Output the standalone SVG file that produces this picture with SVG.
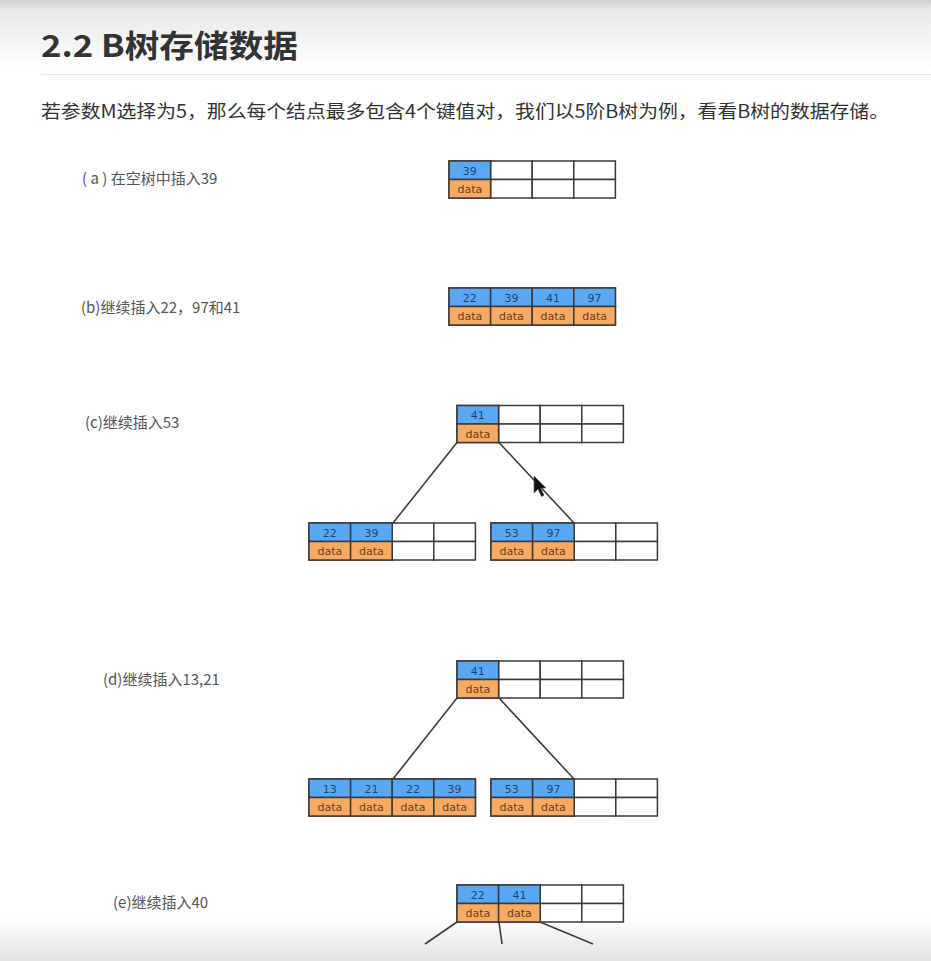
<svg xmlns="http://www.w3.org/2000/svg" xmlns:xlink="http://www.w3.org/1999/xlink" width="931" height="961" viewBox="0 0 931 961">
<style>
.cell{fill:#ffffff;stroke:#3a3a3a;stroke-width:1.5}
.k{fill:#5aa8f4;stroke:#3a3a3a;stroke-width:1.5}
.d{fill:#f8aa64;stroke:#3a3a3a;stroke-width:1.5}
.kt{font-family:"DejaVu Sans",sans-serif;font-size:11px;fill:#24466e;text-anchor:middle}
.dt{font-family:"DejaVu Sans",sans-serif;font-size:11px;fill:#6a4018;text-anchor:middle}
.lbl{font-family:"Noto Sans CJK SC","Liberation Sans",sans-serif;font-size:15px;fill:#555555}
.edge{stroke:#3d3d3d;stroke-width:1.6;fill:none}
</style>
<defs>
<linearGradient id="topg" x1="0" y1="0" x2="0" y2="1">
<stop offset="0" stop-color="#cfcfcf"/>
<stop offset="0.15" stop-color="#e9e9e9"/>
<stop offset="1" stop-color="#ffffff"/>
</linearGradient>
<linearGradient id="botg" x1="0" y1="0" x2="0" y2="1">
<stop offset="0" stop-color="#ffffff"/>
<stop offset="1" stop-color="#e2e2e2"/>
</linearGradient>
<g id="grid">
<rect class="cell" x="0" y="0" width="41.6" height="18.5"/>
<rect class="cell" x="41.6" y="0" width="41.6" height="18.5"/>
<rect class="cell" x="83.2" y="0" width="41.6" height="18.5"/>
<rect class="cell" x="124.8" y="0" width="41.6" height="18.5"/>
<rect class="cell" x="0" y="18.5" width="41.6" height="18.5"/>
<rect class="cell" x="41.6" y="18.5" width="41.6" height="18.5"/>
<rect class="cell" x="83.2" y="18.5" width="41.6" height="18.5"/>
<rect class="cell" x="124.8" y="18.5" width="41.6" height="18.5"/>
</g>
</defs>
<rect x="0" y="0" width="931" height="961" fill="#ffffff"/>
<rect x="0" y="0" width="931" height="70" fill="url(#topg)"/>
<rect x="0" y="918" width="931" height="43" fill="url(#botg)"/>

<g id="header">
<text x="41" y="57" font-family="Noto Sans CJK SC,Liberation Sans,sans-serif" font-size="31" font-weight="bold" fill="#333333" textLength="257" lengthAdjust="spacingAndGlyphs">2.2 B树存储数据</text>
<line x1="41" y1="74.5" x2="931" y2="74.5" stroke="#e8e8e8" stroke-width="1"/>
<text x="41" y="118" font-family="Noto Sans CJK SC,Liberation Sans,sans-serif" font-size="18" fill="#333333" textLength="848" lengthAdjust="spacingAndGlyphs">若参数M选择为5，那么每个结点最多包含4个键值对，我们以5阶B树为例，看看B树的数据存储。</text>
</g>

<g id="labels">
<text class="lbl" x="82" y="184">( a ) 在空树中插入39</text>
<text class="lbl" x="81" y="313">(b)继续插入22，97和41</text>
<text class="lbl" x="85" y="428">(c)继续插入53</text>
<text class="lbl" x="103" y="685">(d)继续插入13,21</text>
<text class="lbl" x="113" y="908">(e)继续插入40</text>
</g>

<g id="connectors">
<line class="edge" x1="457" y1="442.5" x2="393" y2="523"/>
<line class="edge" x1="499" y1="442.5" x2="574" y2="523"/>
<line class="edge" x1="457" y1="698" x2="393" y2="779"/>
<line class="edge" x1="499" y1="698" x2="574" y2="779"/>
<line class="edge" x1="457" y1="922" x2="425" y2="944"/>
<line class="edge" x1="499" y1="922" x2="502" y2="944"/>
<line class="edge" x1="540" y1="922" x2="593" y2="944"/>
</g>

<g id="node-a" transform="translate(449,161)">
<use xlink:href="#grid"/>
<rect class="k" x="0" y="0" width="41.6" height="18.5"/><rect class="d" x="0" y="18.5" width="41.6" height="18.5"/>
<text class="kt" x="20.8" y="13.5">39</text><text class="dt" x="20.8" y="32">data</text>
</g>

<g id="node-b" transform="translate(449,288)">
<use xlink:href="#grid"/>
<rect class="k" x="0" y="0" width="41.6" height="18.5"/><rect class="d" x="0" y="18.5" width="41.6" height="18.5"/>
<rect class="k" x="41.6" y="0" width="41.6" height="18.5"/><rect class="d" x="41.6" y="18.5" width="41.6" height="18.5"/>
<rect class="k" x="83.2" y="0" width="41.6" height="18.5"/><rect class="d" x="83.2" y="18.5" width="41.6" height="18.5"/>
<rect class="k" x="124.8" y="0" width="41.6" height="18.5"/><rect class="d" x="124.8" y="18.5" width="41.6" height="18.5"/>
<text class="kt" x="20.8" y="13.5">22</text><text class="dt" x="20.8" y="32">data</text>
<text class="kt" x="62.4" y="13.5">39</text><text class="dt" x="62.4" y="32">data</text>
<text class="kt" x="104" y="13.5">41</text><text class="dt" x="104" y="32">data</text>
<text class="kt" x="145.6" y="13.5">97</text><text class="dt" x="145.6" y="32">data</text>
</g>

<g id="node-c-root" transform="translate(457,405.5)">
<use xlink:href="#grid"/>
<rect class="k" x="0" y="0" width="41.6" height="18.5"/><rect class="d" x="0" y="18.5" width="41.6" height="18.5"/>
<text class="kt" x="20.8" y="13.5">41</text><text class="dt" x="20.8" y="32">data</text>
</g>

<g id="node-c-left" transform="translate(309,523)">
<use xlink:href="#grid"/>
<rect class="k" x="0" y="0" width="41.6" height="18.5"/><rect class="d" x="0" y="18.5" width="41.6" height="18.5"/>
<rect class="k" x="41.6" y="0" width="41.6" height="18.5"/><rect class="d" x="41.6" y="18.5" width="41.6" height="18.5"/>
<text class="kt" x="20.8" y="13.5">22</text><text class="dt" x="20.8" y="32">data</text>
<text class="kt" x="62.4" y="13.5">39</text><text class="dt" x="62.4" y="32">data</text>
</g>

<g id="node-c-right" transform="translate(491,523)">
<use xlink:href="#grid"/>
<rect class="k" x="0" y="0" width="41.6" height="18.5"/><rect class="d" x="0" y="18.5" width="41.6" height="18.5"/>
<rect class="k" x="41.6" y="0" width="41.6" height="18.5"/><rect class="d" x="41.6" y="18.5" width="41.6" height="18.5"/>
<text class="kt" x="20.8" y="13.5">53</text><text class="dt" x="20.8" y="32">data</text>
<text class="kt" x="62.4" y="13.5">97</text><text class="dt" x="62.4" y="32">data</text>
</g>

<g id="node-d-root" transform="translate(457,661)">
<use xlink:href="#grid"/>
<rect class="k" x="0" y="0" width="41.6" height="18.5"/><rect class="d" x="0" y="18.5" width="41.6" height="18.5"/>
<text class="kt" x="20.8" y="13.5">41</text><text class="dt" x="20.8" y="32">data</text>
</g>

<g id="node-d-left" transform="translate(309,779)">
<use xlink:href="#grid"/>
<rect class="k" x="0" y="0" width="41.6" height="18.5"/><rect class="d" x="0" y="18.5" width="41.6" height="18.5"/>
<rect class="k" x="41.6" y="0" width="41.6" height="18.5"/><rect class="d" x="41.6" y="18.5" width="41.6" height="18.5"/>
<rect class="k" x="83.2" y="0" width="41.6" height="18.5"/><rect class="d" x="83.2" y="18.5" width="41.6" height="18.5"/>
<rect class="k" x="124.8" y="0" width="41.6" height="18.5"/><rect class="d" x="124.8" y="18.5" width="41.6" height="18.5"/>
<text class="kt" x="20.8" y="13.5">13</text><text class="dt" x="20.8" y="32">data</text>
<text class="kt" x="62.4" y="13.5">21</text><text class="dt" x="62.4" y="32">data</text>
<text class="kt" x="104" y="13.5">22</text><text class="dt" x="104" y="32">data</text>
<text class="kt" x="145.6" y="13.5">39</text><text class="dt" x="145.6" y="32">data</text>
</g>

<g id="node-d-right" transform="translate(491,779)">
<use xlink:href="#grid"/>
<rect class="k" x="0" y="0" width="41.6" height="18.5"/><rect class="d" x="0" y="18.5" width="41.6" height="18.5"/>
<rect class="k" x="41.6" y="0" width="41.6" height="18.5"/><rect class="d" x="41.6" y="18.5" width="41.6" height="18.5"/>
<text class="kt" x="20.8" y="13.5">53</text><text class="dt" x="20.8" y="32">data</text>
<text class="kt" x="62.4" y="13.5">97</text><text class="dt" x="62.4" y="32">data</text>
</g>

<g id="node-e-root" transform="translate(457,885)">
<use xlink:href="#grid"/>
<rect class="k" x="0" y="0" width="41.6" height="18.5"/><rect class="d" x="0" y="18.5" width="41.6" height="18.5"/>
<rect class="k" x="41.6" y="0" width="41.6" height="18.5"/><rect class="d" x="41.6" y="18.5" width="41.6" height="18.5"/>
<text class="kt" x="20.8" y="13.5">22</text><text class="dt" x="20.8" y="32">data</text>
<text class="kt" x="62.4" y="13.5">41</text><text class="dt" x="62.4" y="32">data</text>
</g>

<g id="cursor" transform="translate(534,476)">
<path d="M0,0 L0,17 L4,13 L7.5,20.5 L10,19.3 L6.6,12 L12,12 Z" fill="#111111" stroke="#555555" stroke-width="0.6"/>
</g>
</svg>
